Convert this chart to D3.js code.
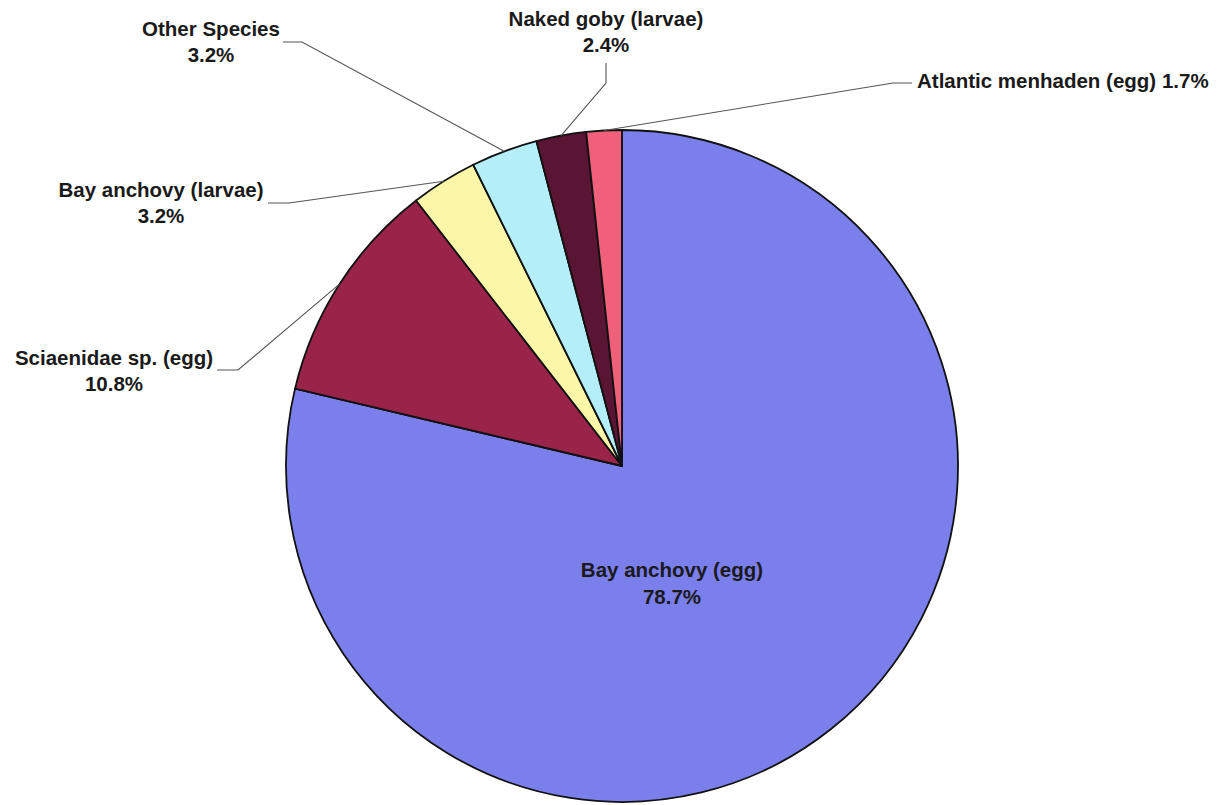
<!DOCTYPE html>
<html>
<head>
<meta charset="utf-8">
<script src="https://cdn.jsdelivr.net/npm/d3@7"></script>
<style>
  html, body { margin: 0; padding: 0; background: #fff; }
  svg { display: block; }
  text { font-family: "Liberation Sans", Arial, sans-serif; font-weight: bold; fill: #1a1a1a; }
</style>
</head>
<body>
<svg id="chart" width="1219" height="805"></svg>
<script>
// Species composition (percent of total), clockwise from 12 o'clock
const species = [
  "Bay anchovy (egg)",
  "Sciaenidae sp. (egg)",
  "Bay anchovy (larvae)",
  "Other Species",
  "Naked goby (larvae)",
  "Atlantic menhaden (egg)"
];
const percents = [78.7, 10.8, 3.2, 3.2, 2.4, 1.7];
const sliceColors = ["#7b7fec", "#9a2349", "#fcf7a8", "#b4eef8", "#5a1434", "#f0607a"];

const W = 1219, H = 805;
const cx = 622, cy = 466, R = 336;

const svg = d3.select("#chart");
const g = svg.append("g").attr("transform", `translate(${cx},${cy})`);

const pie = d3.pie().sort(null).value(d => d.value);
const arcs = pie(species.map((name, i) => ({ name, value: percents[i], color: sliceColors[i] })));

const arc = d3.arc().innerRadius(0).outerRadius(R);

g.selectAll("path.slice")
  .data(arcs)
  .enter().append("path")
  .attr("class", "slice")
  .attr("d", arc)
  .attr("fill", d => d.data.color)
  .attr("stroke", "#111")
  .attr("stroke-width", 1.8)
  .attr("stroke-linejoin", "round");

// Point on the rim at a slice's mid angle
function rimPoint(d) {
  const a = (d.startAngle + d.endAngle) / 2;
  return [R * Math.sin(a), -R * Math.cos(a)];
}

const fmt = v => v.toFixed(1) + "%";

// Outside label layout: text anchor, line baselines, and leader elbow (all in page coords)
const outside = {
  "Sciaenidae sp. (egg)":   { x: 114, y: 365, anchor: "middle", two: true, elbow: [[217, 370], [238, 370]] },
  "Bay anchovy (larvae)":   { x: 161, y: 197, anchor: "middle", two: true, elbow: [[268, 203], [289, 203]] },
  "Other Species":          { x: 211, y: 36,  anchor: "middle", two: true, elbow: [[283, 42], [302, 42]] },
  "Naked goby (larvae)":    { x: 606, y: 26,  anchor: "middle", two: true, elbow: [[606, 63], [606, 83]] },
  "Atlantic menhaden (egg)":{ x: 917, y: 88,  anchor: "start",  two: false, elbow: [[912, 83], [893, 83]] }
};

const fontSize = 20.5, lineGap = 26;

arcs.forEach(d => {
  const L = outside[d.data.name];
  if (!L) return;
  const [rx, ry] = rimPoint(d);
  const pts = [L.elbow[0], L.elbow[1], [cx + rx, cy + ry]];
  svg.append("path")
    .attr("d", d3.line()(pts))
    .attr("fill", "none")
    .attr("stroke", "#555")
    .attr("stroke-width", 1.1);
  if (L.two) {
    const t = svg.append("text")
      .attr("x", L.x).attr("y", L.y)
      .attr("text-anchor", L.anchor)
      .style("font-size", fontSize + "px");
    t.append("tspan").attr("x", L.x).text(d.data.name);
    t.append("tspan").attr("x", L.x).attr("dy", lineGap).text(fmt(d.data.value));
  } else {
    svg.append("text")
      .attr("x", L.x).attr("y", L.y)
      .attr("text-anchor", L.anchor)
      .style("font-size", fontSize + "px")
      .text(d.data.name + " " + fmt(d.data.value));
  }
});

// Label inside the dominant slice
const big = arcs[0];
const inner = svg.append("text")
  .attr("x", cx + 50).attr("y", cy + 111)
  .attr("text-anchor", "middle")
  .style("font-size", fontSize + "px");
inner.append("tspan").attr("x", cx + 50).text(big.data.name);
inner.append("tspan").attr("x", cx + 50).attr("dy", 27).text(fmt(big.data.value));
</script>
</body>
</html>
